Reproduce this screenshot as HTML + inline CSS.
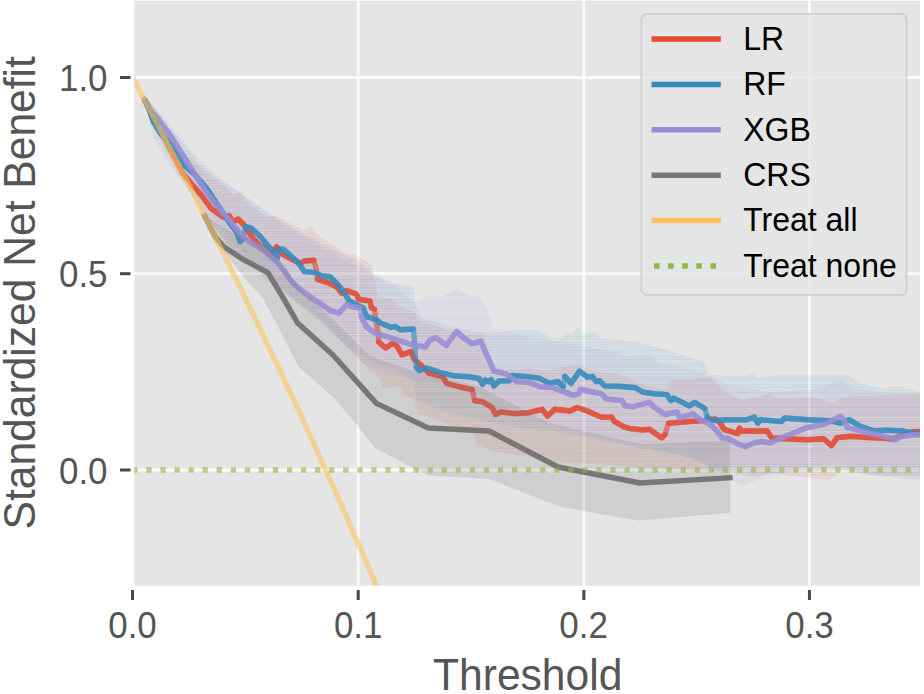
<!DOCTYPE html>
<html><head><meta charset="utf-8"><title>Decision curve</title>
<style>
html,body{margin:0;padding:0;background:#fff;}
svg{display:block;}
text{font-family:"Liberation Sans",sans-serif;}
.tk{font-size:35px;fill:#555;}
.al{font-size:42.6px;fill:#555;}
.lg{font-size:32px;fill:#000;}
</style></head>
<body>
<svg width="924" height="694" viewBox="0 0 924 694">
<defs>
<pattern id="sr" width="8" height="13.4" patternUnits="userSpaceOnUse"><rect y="0" width="8" height="1.2" fill="#E24A33" fill-opacity="0.1"/><rect y="2.9" width="8" height="1.0" fill="#E24A33" fill-opacity="0.07"/><rect y="5.1" width="8" height="1.7" fill="#E24A33" fill-opacity="0.11"/><rect y="8.3" width="8" height="1.1" fill="#E24A33" fill-opacity="0.08"/><rect y="10.7" width="8" height="1.4" fill="#E24A33" fill-opacity="0.1"/></pattern>
<pattern id="sb" width="8" height="14.2" patternUnits="userSpaceOnUse"><rect y="0.8" width="8" height="1.3" fill="#348ABD" fill-opacity="0.09"/><rect y="3.6" width="8" height="1.1" fill="#348ABD" fill-opacity="0.1"/><rect y="6.4" width="8" height="1.0" fill="#348ABD" fill-opacity="0.07"/><rect y="8.9" width="8" height="1.6" fill="#348ABD" fill-opacity="0.11"/><rect y="11.8" width="8" height="1.0" fill="#348ABD" fill-opacity="0.08"/></pattern>
<pattern id="sp" width="8" height="14.9" patternUnits="userSpaceOnUse"><rect y="1.5" width="8" height="1.1" fill="#988ED5" fill-opacity="0.1"/><rect y="4.0" width="8" height="1.5" fill="#988ED5" fill-opacity="0.1"/><rect y="7.2" width="8" height="1.2" fill="#988ED5" fill-opacity="0.08"/><rect y="9.6" width="8" height="1.0" fill="#988ED5" fill-opacity="0.11"/><rect y="12.0" width="8" height="1.3" fill="#988ED5" fill-opacity="0.09"/></pattern>
<clipPath id="pc"><rect x="134.3" y="0.6" width="785.7" height="585.1"/></clipPath></defs>
<rect x="0" y="0" width="924" height="694" fill="#fff"/>
<rect x="134.3" y="0.6" width="785.7" height="585.1" fill="#E5E5E5"/>
<line x1="358.2" y1="0.6" x2="358.2" y2="585.7" stroke="#fff" stroke-opacity="0.8" stroke-width="2.8"/>
<line x1="583.85" y1="0.6" x2="583.85" y2="585.7" stroke="#fff" stroke-opacity="0.8" stroke-width="2.8"/>
<line x1="809.45" y1="0.6" x2="809.45" y2="585.7" stroke="#fff" stroke-opacity="0.8" stroke-width="2.8"/>
<line x1="134.3" y1="77.5" x2="920.0" y2="77.5" stroke="#fff" stroke-opacity="0.8" stroke-width="2.8"/>
<line x1="134.3" y1="273.7" x2="920.0" y2="273.7" stroke="#fff" stroke-opacity="0.8" stroke-width="2.8"/>
<line x1="134.3" y1="470.0" x2="920.0" y2="470.0" stroke="#fff" stroke-opacity="0.8" stroke-width="2.8"/>
<g clip-path="url(#pc)">
<polygon points="148.0,100.0 166.0,124.0 183.0,151.0 200.0,168.0 213.0,178.0 226.0,188.0 234.0,196.0 239.7,191.0 248.0,203.3 266.3,216.7 276.3,216.0 289.7,223.3 303.0,230.0 311.3,226.7 319.7,236.7 333.0,245.0 345.0,253.9 357.0,255.6 371.0,264.2 374.5,278.0 378.0,297.0 391.8,298.9 400.4,307.5 414.3,311.0 417.7,321.4 438.5,326.6 459.3,335.2 483.5,333.5 493.9,366.4 507.8,369.9 528.6,368.1 542.4,371.6 563.2,366.4 577.0,364.7 597.8,371.6 620.0,375.0 638.6,383.1 652.5,386.6 666.3,390.0 669.8,379.7 711.4,377.9 725.2,391.8 742.5,400.4 770.2,393.5 777.2,398.7 811.8,397.0 832.6,402.2 843.0,397.0 881.0,395.2 920.0,393.5 920.0,476.6 867.2,474.9 843.0,469.7 829.0,480.0 798.0,476.6 770.2,473.2 756.0,478.0 730.4,471.4 680.0,470.0 640.0,468.0 600.0,464.0 556.3,461.6 542.4,458.2 514.7,454.7 493.9,451.3 476.6,444.3 473.2,433.9 438.5,420.1 417.7,413.2 414.3,399.3 403.9,395.8 400.4,385.5 383.1,388.9 379.7,378.5 365.0,365.0 345.0,345.0 320.0,318.0 300.0,303.0 280.0,287.0 253.0,267.0 226.0,243.0 200.0,208.0 190.0,190.0 176.0,170.0 160.0,140.0 148.0,103.0" fill="#E24A33" fill-opacity="0.06"/><polygon points="148.0,100.0 166.0,124.0 183.0,151.0 200.0,168.0 213.0,178.0 226.0,188.0 234.0,196.0 239.7,191.0 248.0,203.3 266.3,216.7 276.3,216.0 289.7,223.3 303.0,230.0 311.3,226.7 319.7,236.7 333.0,245.0 345.0,253.9 357.0,255.6 371.0,264.2 374.5,278.0 378.0,297.0 391.8,298.9 400.4,307.5 414.3,311.0 417.7,321.4 438.5,326.6 459.3,335.2 483.5,333.5 493.9,366.4 507.8,369.9 528.6,368.1 542.4,371.6 563.2,366.4 577.0,364.7 597.8,371.6 620.0,375.0 638.6,383.1 652.5,386.6 666.3,390.0 669.8,379.7 711.4,377.9 725.2,391.8 742.5,400.4 770.2,393.5 777.2,398.7 811.8,397.0 832.6,402.2 843.0,397.0 881.0,395.2 920.0,393.5 920.0,476.6 867.2,474.9 843.0,469.7 829.0,480.0 798.0,476.6 770.2,473.2 756.0,478.0 730.4,471.4 680.0,470.0 640.0,468.0 600.0,464.0 556.3,461.6 542.4,458.2 514.7,454.7 493.9,451.3 476.6,444.3 473.2,433.9 438.5,420.1 417.7,413.2 414.3,399.3 403.9,395.8 400.4,385.5 383.1,388.9 379.7,378.5 365.0,365.0 345.0,345.0 320.0,318.0 300.0,303.0 280.0,287.0 253.0,267.0 226.0,243.0 200.0,208.0 190.0,190.0 176.0,170.0 160.0,140.0 148.0,103.0" fill="url(#sr)"/>
<polygon points="146.0,97.0 160.0,113.0 180.0,140.0 200.0,164.0 220.0,180.0 245.0,196.0 270.0,214.0 300.0,232.0 330.0,248.0 360.0,262.0 374.5,274.6 390.0,283.3 414.3,286.8 414.3,302.3 421.2,317.9 445.5,324.8 473.2,331.8 493.9,333.5 511.3,330.0 539.0,330.0 549.4,337.0 563.2,338.7 565.0,331.8 572.0,334.0 578.8,326.6 584.0,333.5 594.4,331.8 601.3,338.7 620.0,340.0 635.0,341.6 673.3,352.0 704.4,362.3 708.0,374.5 742.5,376.2 753.0,373.4 756.4,378.0 784.0,374.5 811.8,374.5 846.4,374.5 860.3,383.1 881.0,388.3 898.4,386.6 920.0,391.8 920.0,480.0 880.0,476.0 840.0,470.0 800.0,472.0 760.0,474.0 712.0,470.0 705.0,462.0 680.0,455.0 640.0,448.0 600.0,440.0 560.0,432.0 520.0,428.0 480.0,420.0 440.0,410.0 416.0,400.0 414.0,380.0 400.0,372.0 370.0,362.0 345.0,345.0 320.0,320.0 290.0,298.0 260.0,275.0 230.0,248.0 205.0,215.0 190.0,192.0 176.0,174.0 165.0,157.0 153.0,137.0 146.0,104.0" fill="#348ABD" fill-opacity="0.06"/><polygon points="146.0,97.0 160.0,113.0 180.0,140.0 200.0,164.0 220.0,180.0 245.0,196.0 270.0,214.0 300.0,232.0 330.0,248.0 360.0,262.0 374.5,274.6 390.0,283.3 414.3,286.8 414.3,302.3 421.2,317.9 445.5,324.8 473.2,331.8 493.9,333.5 511.3,330.0 539.0,330.0 549.4,337.0 563.2,338.7 565.0,331.8 572.0,334.0 578.8,326.6 584.0,333.5 594.4,331.8 601.3,338.7 620.0,340.0 635.0,341.6 673.3,352.0 704.4,362.3 708.0,374.5 742.5,376.2 753.0,373.4 756.4,378.0 784.0,374.5 811.8,374.5 846.4,374.5 860.3,383.1 881.0,388.3 898.4,386.6 920.0,391.8 920.0,480.0 880.0,476.0 840.0,470.0 800.0,472.0 760.0,474.0 712.0,470.0 705.0,462.0 680.0,455.0 640.0,448.0 600.0,440.0 560.0,432.0 520.0,428.0 480.0,420.0 440.0,410.0 416.0,400.0 414.0,380.0 400.0,372.0 370.0,362.0 345.0,345.0 320.0,320.0 290.0,298.0 260.0,275.0 230.0,248.0 205.0,215.0 190.0,192.0 176.0,174.0 165.0,157.0 153.0,137.0 146.0,104.0" fill="url(#sb)"/>
<polygon points="148.0,100.0 170.0,125.0 195.0,155.0 220.0,178.0 250.0,200.0 280.0,222.0 310.0,240.0 340.0,258.0 370.0,272.0 400.0,290.0 414.3,302.3 431.6,295.4 442.0,297.1 455.8,288.5 469.7,295.4 480.0,295.4 487.0,309.3 493.9,326.6 520.0,335.0 560.0,342.0 604.0,350.2 621.3,352.0 624.8,357.1 649.0,353.7 659.4,364.0 683.7,367.5 704.4,374.5 730.0,385.0 770.0,392.0 811.8,390.0 841.2,379.7 853.4,388.3 880.0,392.0 920.0,395.0 920.0,474.0 880.0,474.0 850.0,470.0 840.0,462.0 800.0,468.0 770.0,478.0 756.4,480.0 742.5,487.0 730.0,478.0 715.0,470.0 690.0,458.0 650.0,448.0 610.0,440.0 570.0,430.0 530.0,420.0 495.0,410.0 480.0,392.0 450.0,385.0 420.0,382.0 385.0,372.0 365.0,365.0 345.0,345.0 320.0,322.0 290.0,297.0 260.0,270.0 230.0,240.0 205.0,205.0 185.0,175.0 165.0,145.0 148.0,104.0" fill="#988ED5" fill-opacity="0.06"/><polygon points="148.0,100.0 170.0,125.0 195.0,155.0 220.0,178.0 250.0,200.0 280.0,222.0 310.0,240.0 340.0,258.0 370.0,272.0 400.0,290.0 414.3,302.3 431.6,295.4 442.0,297.1 455.8,288.5 469.7,295.4 480.0,295.4 487.0,309.3 493.9,326.6 520.0,335.0 560.0,342.0 604.0,350.2 621.3,352.0 624.8,357.1 649.0,353.7 659.4,364.0 683.7,367.5 704.4,374.5 730.0,385.0 770.0,392.0 811.8,390.0 841.2,379.7 853.4,388.3 880.0,392.0 920.0,395.0 920.0,474.0 880.0,474.0 850.0,470.0 840.0,462.0 800.0,468.0 770.0,478.0 756.4,480.0 742.5,487.0 730.0,478.0 715.0,470.0 690.0,458.0 650.0,448.0 610.0,440.0 570.0,430.0 530.0,420.0 495.0,410.0 480.0,392.0 450.0,385.0 420.0,382.0 385.0,372.0 365.0,365.0 345.0,345.0 320.0,322.0 290.0,297.0 260.0,270.0 230.0,240.0 205.0,205.0 185.0,175.0 165.0,145.0 148.0,104.0" fill="url(#sp)"/>
<polyline points="144.3,99.5 150.9,111.9 157.4,124.3 163.9,136.8 170.4,149.2 176.9,161.6 183.3,174.0 191.7,184.0 201.5,195.5 211.5,208.8 223.0,217.0 229.0,215.5 233.0,222.0 238.0,219.0 244.0,225.0 252.3,237.0 259.3,245.0 268.8,252.7 272.0,253.5 276.6,246.7 281.8,253.6 290.4,258.8 300.8,263.3 304.5,261.0 313.8,260.3 316.4,269.8 317.5,279.4 328.5,282.8 337.0,287.0 341.5,293.2 346.7,290.6 356.2,294.0 358.8,299.3 370.0,301.0 371.5,308.0 374.4,309.0 376.0,321.0 377.8,331.0 378.7,342.0 385.6,348.0 393.4,342.8 397.7,347.1 402.0,354.9 410.7,351.5 414.2,359.3 420.2,364.5 428.9,373.1 442.7,376.6 447.0,383.5 460.0,387.0 472.2,389.6 474.8,400.8 482.6,401.7 492.1,407.5 495.6,414.5 500.8,411.9 514.6,413.6 528.5,412.7 542.3,409.3 547.5,416.2 554.5,409.3 570.0,411.0 577.0,407.5 587.4,411.0 601.2,417.1 611.6,417.1 614.2,421.4 623.7,426.6 628.7,428.4 642.5,430.0 649.4,429.3 661.6,437.9 665.0,434.5 668.5,423.2 689.3,421.5 703.1,420.6 715.2,418.9 720.4,423.2 723.9,429.3 737.7,433.6 739.5,428.0 741.2,431.0 755.0,431.0 767.2,431.0 771.8,437.9 784.8,438.8 807.3,439.7 823.7,438.8 831.5,445.7 836.7,437.9 850.6,436.2 867.9,437.6 885.6,438.4 891.0,439.0 897.0,437.5 905.0,434.0 913.0,431.8 920.0,431.5" fill="none" stroke="#E24A33" stroke-width="5.4" stroke-linejoin="round" stroke-opacity="0.62"/><path d="M144.3 99.5 L150.9 111.9 L157.4 124.3 L163.9 136.8 L170.4 149.2 L176.9 161.6 L183.3 174.0 L191.7 184.0 L201.5 195.5 L211.5 208.8 L223.0 217.0 L229.0 215.5 L233.0 222.0 L238.0 219.0 L244.0 225.0 L252.3 237.0 L259.3 245.0 L268.8 252.7 L272.0 253.5 L276.6 246.7 L281.8 253.6 L290.4 258.8 L300.8 263.3 L304.5 261.0 L313.8 260.3 M317.5 279.4 L328.5 282.8 L337.0 287.0 L341.5 293.2 L346.7 290.6 L356.2 294.0 L358.8 299.3 L370.0 301.0 L371.5 308.0 L374.4 309.0 M378.7 342.0 L385.6 348.0 L393.4 342.8 L397.7 347.1 L402.0 354.9 L410.7 351.5 L414.2 359.3 L420.2 364.5 L428.9 373.1 L442.7 376.6 L447.0 383.5 L460.0 387.0 L472.2 389.6 M474.8 400.8 L482.6 401.7 L492.1 407.5 L495.6 414.5 L500.8 411.9 L514.6 413.6 L528.5 412.7 L542.3 409.3 L547.5 416.2 L554.5 409.3 L570.0 411.0 L577.0 407.5 L587.4 411.0 L601.2 417.1 L611.6 417.1 L614.2 421.4 L623.7 426.6 L628.7 428.4 L642.5 430.0 L649.4 429.3 L661.6 437.9 L665.0 434.5 M668.5 423.2 L689.3 421.5 L703.1 420.6 L715.2 418.9 L720.4 423.2 L723.9 429.3 L737.7 433.6 L739.5 428.0 L741.2 431.0 L755.0 431.0 L767.2 431.0 L771.8 437.9 L784.8 438.8 L807.3 439.7 L823.7 438.8 L831.5 445.7 L836.7 437.9 L850.6 436.2 L867.9 437.6 L885.6 438.4 L891.0 439.0 L897.0 437.5 L905.0 434.0 L913.0 431.8 L920.0 431.5" fill="none" stroke="#E24A33" stroke-width="5.4" stroke-linejoin="round" stroke-linecap="round" stroke-opacity="0.72"/>
<polyline points="144.6,99.5 148.5,108.0 153.5,122.0 160.0,133.0 172.0,145.3 180.0,158.0 184.0,165.0 193.0,173.0 200.5,181.0 207.8,190.0 216.0,202.5 229.8,223.3 236.8,232.0 240.2,241.5 243.7,237.0 245.4,226.8 250.6,227.6 259.3,235.4 267.9,245.8 274.8,252.7 277.4,258.0 279.2,249.3 283.5,249.3 293.9,258.8 299.0,263.8 304.2,271.6 314.6,272.4 321.6,275.9 330.2,276.8 337.1,283.7 342.3,289.7 349.3,301.0 356.2,304.5 363.1,307.9 366.6,316.6 377.0,320.0 380.4,322.9 390.8,327.2 395.1,326.4 400.3,329.8 413.3,329.0 414.7,342.0 415.4,355.8 416.4,368.0 419.4,370.5 427.1,368.0 439.3,372.3 453.1,375.7 467.0,376.6 479.1,378.3 482.6,384.4 485.2,380.0 488.6,381.8 491.2,379.5 493.8,386.1 499.0,381.0 509.4,380.7 512.0,375.5 525.0,376.4 538.9,378.1 549.3,383.3 557.9,381.6 563.1,386.8 564.8,376.4 570.9,383.3 579.6,371.2 587.4,377.2 592.6,376.4 596.0,381.6 599.5,380.7 604.7,385.9 618.5,386.2 635.6,387.7 642.5,392.0 654.6,393.8 666.8,394.6 671.0,400.7 673.7,398.1 689.3,405.9 694.5,402.4 704.8,408.5 707.4,417.1 711.8,420.6 727.4,419.7 746.4,419.7 754.2,417.1 757.7,423.2 760.3,419.7 781.3,421.5 784.8,418.0 807.3,419.7 829.8,420.6 840.2,423.2 848.9,419.7 861.0,426.7 874.8,431.0 885.2,430.1 902.5,431.0 920.0,434.5" fill="none" stroke="#348ABD" stroke-width="5.4" stroke-linejoin="round" stroke-opacity="0.62"/><path d="M144.6 99.5 L148.5 108.0 L153.5 122.0 L160.0 133.0 L172.0 145.3 L180.0 158.0 L184.0 165.0 L193.0 173.0 L200.5 181.0 L207.8 190.0 L216.0 202.5 L229.8 223.3 L236.8 232.0 L240.2 241.5 L243.7 237.0 M245.4 226.8 L250.6 227.6 L259.3 235.4 L267.9 245.8 L274.8 252.7 L277.4 258.0 M279.2 249.3 L283.5 249.3 L293.9 258.8 L299.0 263.8 L304.2 271.6 L314.6 272.4 L321.6 275.9 L330.2 276.8 L337.1 283.7 L342.3 289.7 L349.3 301.0 L356.2 304.5 L363.1 307.9 L366.6 316.6 L377.0 320.0 L380.4 322.9 L390.8 327.2 L395.1 326.4 L400.3 329.8 L413.3 329.0 M416.4 368.0 L419.4 370.5 L427.1 368.0 L439.3 372.3 L453.1 375.7 L467.0 376.6 L479.1 378.3 L482.6 384.4 L485.2 380.0 L488.6 381.8 L491.2 379.5 L493.8 386.1 L499.0 381.0 L509.4 380.7 L512.0 375.5 L525.0 376.4 L538.9 378.1 L549.3 383.3 L557.9 381.6 L563.1 386.8 M564.8 376.4 L570.9 383.3 L579.6 371.2 L587.4 377.2 L592.6 376.4 L596.0 381.6 L599.5 380.7 L604.7 385.9 L618.5 386.2 L635.6 387.7 L642.5 392.0 L654.6 393.8 L666.8 394.6 L671.0 400.7 L673.7 398.1 L689.3 405.9 L694.5 402.4 L704.8 408.5 M707.4 417.1 L711.8 420.6 L727.4 419.7 L746.4 419.7 L754.2 417.1 L757.7 423.2 L760.3 419.7 L781.3 421.5 L784.8 418.0 L807.3 419.7 L829.8 420.6 L840.2 423.2 L848.9 419.7 L861.0 426.7 L874.8 431.0 L885.2 430.1 L902.5 431.0 L920.0 434.5" fill="none" stroke="#348ABD" stroke-width="5.4" stroke-linejoin="round" stroke-linecap="round" stroke-opacity="0.72"/>
<polyline points="144.6,99.5 150.0,110.0 158.5,119.5 170.0,135.0 188.5,164.0 198.5,180.0 204.8,190.0 214.0,202.0 224.6,214.6 242.0,235.4 250.6,242.3 262.7,249.3 276.6,261.4 285.2,271.8 290.4,280.2 297.3,287.1 311.2,297.5 321.6,304.5 330.2,310.5 338.9,313.1 346.7,304.5 352.7,307.0 359.7,307.9 361.4,316.6 366.6,327.0 373.5,332.2 383.9,335.9 397.7,340.2 411.6,344.5 425.4,347.1 429.7,340.2 435.8,337.6 446.2,345.4 456.6,331.6 463.5,337.6 472.2,343.7 480.8,341.1 484.3,349.7 488.7,359.0 493.9,371.2 506.0,373.8 516.4,381.6 528.5,382.4 540.6,386.8 552.7,387.6 566.6,392.8 573.5,395.4 578.7,393.7 580.4,389.4 592.6,392.0 601.2,393.7 606.4,398.9 622.0,400.6 625.2,405.9 632.1,406.8 639.0,405.0 649.4,402.4 654.6,407.6 665.0,414.5 677.1,412.0 679.7,418.0 692.7,413.7 701.4,420.6 710.0,424.1 717.0,431.0 722.2,437.9 729.1,438.8 737.7,444.0 745.5,446.6 753.3,443.1 762.0,441.4 770.1,443.1 781.3,437.9 807.3,427.5 824.6,424.1 840.2,416.3 843.7,419.7 847.1,427.5 857.5,430.1 871.4,433.6 883.5,436.2 895.6,439.7 900.8,436.2 920.0,434.5" fill="none" stroke="#988ED5" stroke-width="5.4" stroke-linejoin="round" stroke-opacity="0.62"/><path d="M144.6 99.5 L150.0 110.0 L158.5 119.5 L170.0 135.0 L188.5 164.0 L198.5 180.0 L204.8 190.0 L214.0 202.0 L224.6 214.6 L242.0 235.4 L250.6 242.3 L262.7 249.3 L276.6 261.4 L285.2 271.8 L290.4 280.2 L297.3 287.1 L311.2 297.5 L321.6 304.5 L330.2 310.5 L338.9 313.1 L346.7 304.5 L352.7 307.0 L359.7 307.9 M361.4 316.6 L366.6 327.0 L373.5 332.2 L383.9 335.9 L397.7 340.2 L411.6 344.5 L425.4 347.1 L429.7 340.2 L435.8 337.6 L446.2 345.4 L456.6 331.6 L463.5 337.6 L472.2 343.7 L480.8 341.1 L484.3 349.7 L488.7 359.0 L493.9 371.2 L506.0 373.8 L516.4 381.6 L528.5 382.4 L540.6 386.8 L552.7 387.6 L566.6 392.8 L573.5 395.4 L578.7 393.7 L580.4 389.4 L592.6 392.0 L601.2 393.7 L606.4 398.9 L622.0 400.6 L625.2 405.9 L632.1 406.8 L639.0 405.0 L649.4 402.4 L654.6 407.6 L665.0 414.5 L677.1 412.0 L679.7 418.0 L692.7 413.7 L701.4 420.6 L710.0 424.1 L717.0 431.0 L722.2 437.9 L729.1 438.8 L737.7 444.0 L745.5 446.6 L753.3 443.1 L762.0 441.4 L770.1 443.1 L781.3 437.9 L807.3 427.5 L824.6 424.1 L840.2 416.3 L843.7 419.7 L847.1 427.5 L857.5 430.1 L871.4 433.6 L883.5 436.2 L895.6 439.7 L900.8 436.2 L920.0 434.5" fill="none" stroke="#988ED5" stroke-width="5.4" stroke-linejoin="round" stroke-linecap="round" stroke-opacity="0.72"/>
<polyline points="204.7,216.0 209.8,226.2 214.9,236.5 223.8,246.7 242.0,258.8 267.9,272.6 284.4,300.0 297.6,323.0 333.0,355.0 376.4,403.4 428.3,428.0 489.0,431.0 558.0,467.0 640.0,483.0 730.0,477.8" fill="none" stroke="#777777" stroke-width="5.4" stroke-linejoin="round" stroke-linecap="square"/>
<polygon points="203.0,213.6 224.0,228.0 268.0,248.0 300.0,288.0 335.0,322.0 370.0,356.0 413.0,371.0 480.0,387.0 549.0,423.0 604.0,436.0 640.0,444.0 730.3,441.0 730.3,513.0 638.6,520.6 604.0,514.7 558.0,506.0 489.0,479.0 428.0,475.5 374.5,447.8 357.0,425.0 333.0,397.0 298.4,366.6 264.0,299.5 243.0,276.0 223.0,250.0 203.0,213.6" fill="#777777" fill-opacity="0.2"/>
<polyline points="144.3,99.5 147.8,106.1 151.3,112.8 154.8,119.4 158.3,126.0" fill="none" stroke="#3F7F95" stroke-opacity="0.8" stroke-width="5.4"/>
<polyline points="158.3,126.0 161.5,132.0 164.6,138.0 167.7,144.0 170.9,150.0" fill="none" stroke="#5F8F8F" stroke-opacity="0.45" stroke-width="5.4"/>
<polyline points="132.5,77.5 141.5,94.3 150.6,111.3 159.6,128.4 168.6,145.7 177.6,163.0 186.7,180.6 195.7,198.3 204.7,216.1 213.7,234.0 222.8,252.2 231.8,270.4 240.8,288.9 249.8,307.4 258.9,326.2 267.9,345.1 276.9,364.1 285.9,383.3 295.0,402.7 304.0,422.3 313.0,442.0 322.0,461.9 331.1,482.0 340.1,502.2 349.1,522.7 358.2,543.3 367.2,564.1 376.2,585.0 385.2,606.2" fill="none" stroke="#FBC15E" stroke-width="5.4" stroke-linejoin="round" stroke-linecap="square" stroke-opacity="0.6"/>
<line x1="132.3" y1="470" x2="920.0" y2="470" stroke="#8EBA42" stroke-opacity="0.62" stroke-width="5.3" stroke-dasharray="5.3 8.76"/>
</g>
<rect x="131.0" y="590" width="3" height="10" fill="#484848"/>
<rect x="356.7" y="590" width="3" height="10" fill="#484848"/>
<rect x="582.35" y="590" width="3" height="10" fill="#484848"/>
<rect x="807.95" y="590" width="3" height="10" fill="#484848"/>
<rect x="120" y="76.0" width="10.5" height="3" fill="#484848"/>
<rect x="120" y="272.2" width="10.5" height="3" fill="#484848"/>
<rect x="120" y="468.5" width="10.5" height="3" fill="#484848"/>
<text transform="translate(132.5,637.9) scale(1,1.075)" text-anchor="middle" class="tk">0.0</text>
<text transform="translate(358.2,637.9) scale(1,1.075)" text-anchor="middle" class="tk">0.1</text>
<text transform="translate(583.6,637.9) scale(1,1.075)" text-anchor="middle" class="tk">0.2</text>
<text transform="translate(809.5,637.9) scale(1,1.075)" text-anchor="middle" class="tk">0.3</text>
<text transform="translate(107.6,91.0) scale(1,1.075)" text-anchor="end" class="tk">1.0</text>
<text transform="translate(107.6,287.2) scale(1,1.075)" text-anchor="end" class="tk">0.5</text>
<text transform="translate(107.6,483.5) scale(1,1.075)" text-anchor="end" class="tk">0.0</text>
<text transform="translate(527.7,690.2) scale(1,1.045)" text-anchor="middle" class="al">Threshold</text>
<text transform="translate(35,292.8) rotate(-90) scale(1,1.055)" text-anchor="middle" class="al">Standardized Net Benefit</text>
<rect x="641.3" y="14.1" width="265.2" height="281" rx="5.5" ry="5.5" fill="#E5E5E5" fill-opacity="0.8" stroke="#CCCCCC" stroke-opacity="0.8" stroke-width="2"/>
<line x1="651.5" y1="39.0" x2="720.8" y2="39.0" stroke="#E24A33" stroke-width="5.5"/>
<text transform="translate(743.2,49.8) scale(1,1.06)" class="lg">LR</text>
<line x1="651.5" y1="84.4" x2="720.8" y2="84.4" stroke="#348ABD" stroke-width="5.5"/>
<text transform="translate(743.2,95.2) scale(1,1.06)" class="lg">RF</text>
<line x1="651.5" y1="129.8" x2="720.8" y2="129.8" stroke="#988ED5" stroke-width="5.5"/>
<text transform="translate(743.2,140.6) scale(1,1.06)" class="lg">XGB</text>
<line x1="651.5" y1="175.2" x2="720.8" y2="175.2" stroke="#777777" stroke-width="5.5"/>
<text transform="translate(743.2,186.0) scale(1,1.06)" class="lg">CRS</text>
<line x1="651.5" y1="220.6" x2="720.8" y2="220.6" stroke="#FBC15E" stroke-width="5.5"/>
<text transform="translate(743.2,231.4) scale(1,1.06)" class="lg">Treat all</text>
<rect x="654.0" y="263.2" width="5.6" height="5.5" fill="#8EBA42"/>
<rect x="668.1" y="263.2" width="5.6" height="5.5" fill="#8EBA42"/>
<rect x="682.2" y="263.2" width="5.6" height="5.5" fill="#8EBA42"/>
<rect x="696.3" y="263.2" width="5.6" height="5.5" fill="#8EBA42"/>
<rect x="710.4" y="263.2" width="5.6" height="5.5" fill="#8EBA42"/>
<text transform="translate(743.2,276.8) scale(1,1.06)" class="lg">Treat none</text>
</svg>
</body></html>
